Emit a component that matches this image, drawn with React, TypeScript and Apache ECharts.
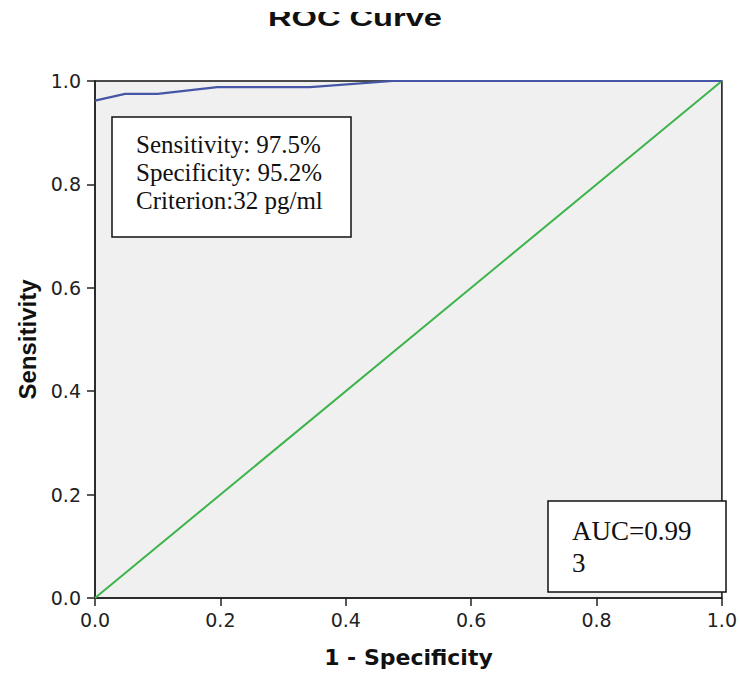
import React, { useEffect, useRef } from "react";
import * as echarts from "echarts";

const fprValues = [0, 0.048, 0.1, 0.195, 0.343, 0.475, 1];
const tprValues = [0.962, 0.975, 0.975, 0.988, 0.988, 1, 1];
const refX = [0, 1];
const refY = [0, 1];
const axisTicks = [0, 0.2, 0.4, 0.6, 0.8, 1.0];
const boxLines = ["Sensitivity: 97.5%", "Specificity: 95.2%", "Criterion:32 pg/ml"];
const aucLines = ["AUC=0.99", "3"];

export default function App() {
  const ref = useRef<HTMLDivElement>(null);
  useEffect(() => {
    if (!ref.current) return;
    const chart = echarts.init(ref.current, null, { renderer: "svg" });
    const serif = "'Liberation Serif', 'Times New Roman', serif";
    const axisCommon = {
      type: "value" as const,
      min: axisTicks[0],
      max: axisTicks[axisTicks.length - 1],
      interval: 0.2,
      splitLine: { show: false },
      axisLine: { show: true, lineStyle: { color: "#222", width: 1.5 } },
      axisTick: { show: true, inside: false, length: 8, lineStyle: { color: "#222", width: 1.5 } },
      axisLabel: {
        color: "#222",
        fontFamily: "DejaVu Sans",
        fontSize: 19,
        formatter: (v: number) => v.toFixed(1),
      },
    };
    chart.setOption({
      animation: false,
      backgroundColor: "#ffffff",
      grid: {
        left: 95,
        right: 18,
        top: 81,
        bottom: 76,
        show: true,
        backgroundColor: "#f0f0f0",
        borderColor: "#111",
        borderWidth: 1.5,
      },
      xAxis: {
        ...axisCommon,
        name: "1 - Specificity",
        nameLocation: "middle",
        nameGap: 48,
        nameTextStyle: { fontFamily: "DejaVu Sans", fontWeight: "bold", fontSize: 22, color: "#111" },
        axisLabel: { ...axisCommon.axisLabel, margin: 12 },
      },
      yAxis: {
        ...axisCommon,
        name: "Sensitivity",
        nameLocation: "middle",
        nameGap: 55,
        nameTextStyle: { fontFamily: "Liberation Sans", fontWeight: "bold", fontSize: 24, color: "#111" },
        axisLabel: { ...axisCommon.axisLabel, margin: 14 },
      },
      series: [
        {
          type: "line",
          data: refX.map((x, i) => [x, refY[i]]),
          symbol: "none",
          lineStyle: { color: "#3cb44a", width: 2 },
          z: 2,
        },
        {
          type: "line",
          data: fprValues.map((x, i) => [x, tprValues[i]]),
          symbol: "none",
          lineStyle: { color: "#4656a6", width: 2.2 },
          z: 3,
        },
      ],
      graphic: [
        {
          type: "text",
          x: 355,
          y: 30,
          scaleX: 1.36,
          style: {
            text: "ROC Curve",
            x: 0,
            y: 0,
            textAlign: "center",
            verticalAlign: "bottom",
            font: "bold 24px 'Liberation Sans', Arial, sans-serif",
            fill: "#111",
          },
          z: 10,
        },
        {
          type: "rect",
          shape: { x: 0, y: 0, width: 740, height: 12 },
          style: { fill: "#ffffff" },
          z: 20,
        },
        {
          type: "rect",
          shape: { x: 112, y: 117, width: 239, height: 120 },
          style: { fill: "#ffffff", stroke: "#111", lineWidth: 1.5 },
          z: 30,
        },
        ...boxLines.map((t, i) => ({
          type: "text",
          x: 136,
          y: 144 + i * 28,
          style: {
            text: t,
            textAlign: "left",
            verticalAlign: "middle",
            font: `25px ${serif}`,
            fill: "#111",
          },
          z: 31,
        })),
        {
          type: "rect",
          shape: { x: 548, y: 501, width: 178, height: 91 },
          style: { fill: "#ffffff", stroke: "#111", lineWidth: 1.5 },
          z: 30,
        },
        ...aucLines.map((t, i) => ({
          type: "text",
          x: 572,
          y: 531 + i * 32,
          style: {
            text: t,
            textAlign: "left",
            verticalAlign: "middle",
            font: `27px ${serif}`,
            fill: "#111",
          },
          z: 31,
        })),
      ],
    });
    return () => chart.dispose();
  }, []);
  return (
    <div
      ref={ref}
      style={{ position: "fixed", left: 0, top: 0, width: 740, height: 674 }}
    />
  );
}
